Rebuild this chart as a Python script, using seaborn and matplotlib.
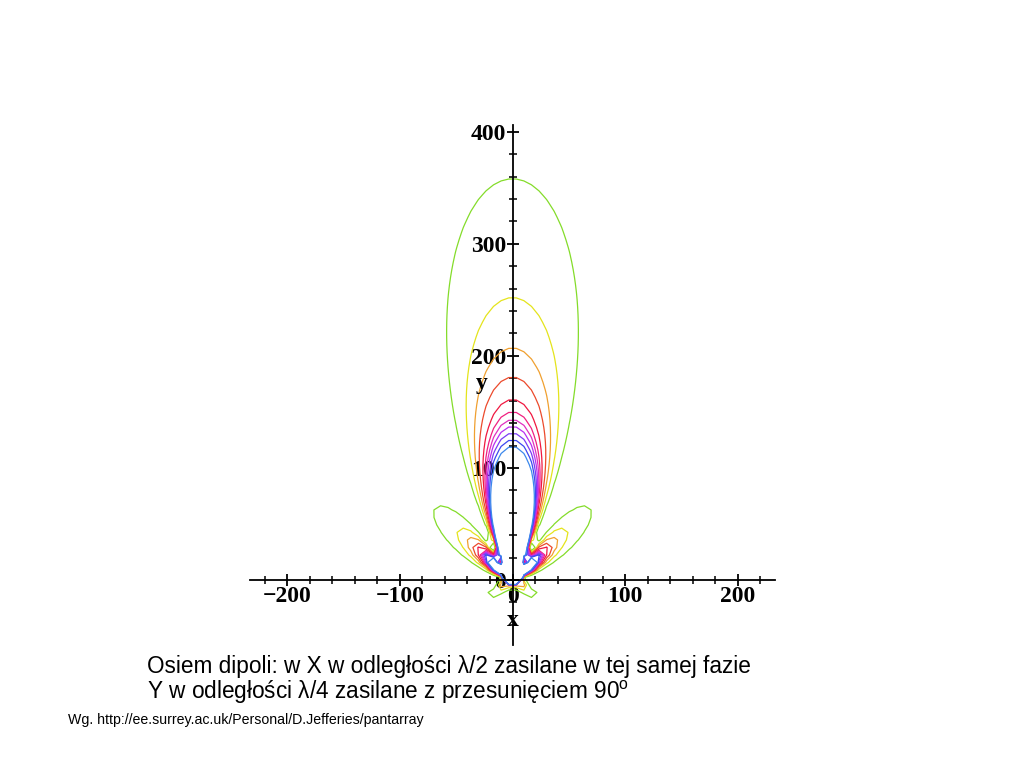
import numpy as np
import matplotlib.pyplot as plt
import seaborn as sns

# ------------------------------------------------------------ #
# Eight dipoles: 4 along X (lambda/2, same phase),
# 2 rows along Y (lambda/4, 90 deg shift)
# ------------------------------------------------------------ #
col_x = [-0.75, -0.25, 0.25, 0.75]      # wavelengths
col_phase = [0, 0, 0, 0]                # degrees
row_y = [0.0, 0.25]                     # wavelengths
row_phase = [0, -90]                    # degrees

# how far up the y axis each contour reaches
contour_tops = [358, 252, 207, 181, 161, 150, 143, 137, 131, 125, 119]
contour_colors = ['#84dc2a', '#e4e41c', '#f0a030', '#ec4a2c', '#f01840', '#f02080',
                  '#e030c0', '#b830f0', '#7a3cf4', '#3c48f0', '#3c88ec']

x_ticks = [-200, -100, 0, 100, 200]
y_ticks = [0, 100, 200, 300, 400]

caption_1 = 'Osiem dipoli: w X w odległości λ/2 zasilane w tej samej fazie'
caption_2 = 'Y w odległości λ/4 zasilane z przesunięciem 90$^{\\mathrm{o}}$'
source = 'Wg. http://ee.surrey.ac.uk/Personal/D.Jefferies/pantarray'

sns.set_style('white')
plt.rcParams['font.family'] = ['Liberation Sans', 'DejaVu Sans']
plt.rcParams['mathtext.fontset'] = 'custom'
plt.rcParams['mathtext.rm'] = 'Liberation Sans'
plt.rcParams['text.color'] = 'black'

# field of the array on a coarse grid (like the maple contourplot)
xs = np.linspace(-232, 232, 70)
ys = np.linspace(-58, 404, 70)
X, Y = np.meshgrid(xs, ys)
r = np.hypot(X, Y)
th = np.arctan2(X, Y)
af = np.zeros_like(r, dtype=complex)
for cx, cp in zip(col_x, col_phase):
    for ry, rp in zip(row_y, row_phase):
        ph = 2 * np.pi * (cx * np.sin(th) + ry * np.cos(th)) + np.radians(cp + rp)
        af += np.exp(1j * ph)
field = np.abs(af) / r
n_el = len(col_x) * len(row_y)
levels = n_el / np.array(contour_tops, dtype=float)

fig = plt.figure(figsize=(10.24, 7.68), dpi=100)
ax = fig.add_axes([250 / 1024, 1 - 645 / 768, 525 / 1024, 520 / 768])
ax.contour(X, Y, field, levels=levels, colors=contour_colors, linewidths=0.9)

ax.set_xlim(-233, 233)
ax.set_ylim(-58, 406)
for s in ['top', 'right']:
    ax.spines[s].set_visible(False)
ax.spines['left'].set_position('zero')
ax.spines['bottom'].set_position('zero')
for s in ['left', 'bottom']:
    ax.spines[s].set_linewidth(1.3)
    ax.spines[s].set_color('black')

tick_font = dict(family='Liberation Serif', weight='bold', size=17, color='black')
ax.set_xticks(x_ticks)
ax.set_yticks(y_ticks)
ax.set_xticks(np.arange(-220, 231, 20), minor=True)
ax.set_yticks(np.arange(-40, 401, 20), minor=True)
ax.set_xticklabels([str(v).replace('-', '\u2212') for v in x_ticks], fontdict=tick_font)
ax.set_yticklabels([str(v) for v in y_ticks], fontdict=tick_font)
ax.tick_params(which='both', bottom=True, left=True, color='black')
ax.tick_params(which='major', direction='inout', length=9, width=1.3)
ax.tick_params(which='minor', direction='inout', length=6, width=1.1)
ax.tick_params(axis='x', pad=0)
ax.tick_params(axis='y', pad=0)

ax.text(0, -36, 'x', ha='center', va='center', **tick_font)
ax.text(-27, 175, 'y', ha='center', va='center', **tick_font)

fig.text(147 / 1024, 1 - 667 / 768, caption_1, fontsize=16.3, va='center')
fig.text(147 / 1024, 1 - 692 / 768, caption_2, fontsize=16.3, va='center')
fig.text(68 / 1024, 1 - 720 / 768, source, fontsize=10.2, va='center')

fig.savefig('out.png', dpi=100)
